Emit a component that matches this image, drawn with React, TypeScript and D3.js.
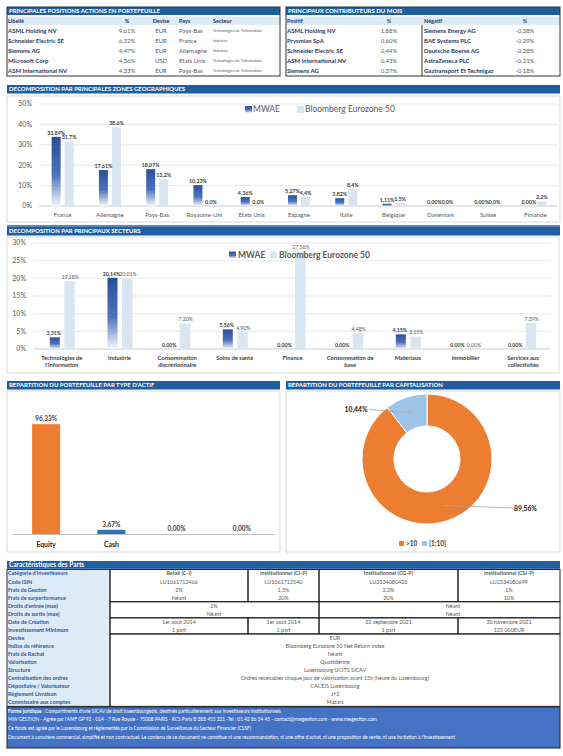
import React, { useEffect, useRef } from 'react';
import * as d3 from 'd3';

// Top positions table
const positionNames = ['ASML Holding NV', 'Schneider Electric SE', 'Siemens AG', 'Microsoft Corp', 'ASM International NV'];
const positionWeights = ['9,61%', '6,32%', '4,47%', '4,36%', '4,33%'];
const positionCurrencies = ['EUR', 'EUR', 'EUR', 'USD', 'EUR'];
const positionCountries = ['Pays-Bas', 'France', 'Allemagne', 'Etats Unis', 'Pays-Bas'];
const positionSectors = ["Technologies de l'information", 'Industrie', 'Industrie', "Technologies de l'information", "Technologies de l'information"];

// Contributors table
const positiveNames = ['ASML Holding NV', 'Prysmian SpA', 'Schneider Electric SE', 'ASM International NV', 'Siemens AG'];
const positiveValues = ['1,88%', '0,60%', '0,44%', '0,43%', '0,37%'];
const negativeNames = ['Siemens Energy AG', 'BAE Systems PLC', 'Deutsche Boerse AG', 'AstraZeneca PLC', 'Gaztransport Et Technigaz'];
const negativeValues = ['-0,38%', '-0,29%', '-0,28%', '-0,21%', '-0,18%'];

// Geographic breakdown
const zones = ['France', 'Allemagne', 'Pays-Bas', 'Royaume-Uni', 'Etats Unis', 'Espagne', 'Italie', 'Belgique', 'Danemark', 'Suisse', 'Finlande'];
const zoneFund = [33.89, 17.61, 18.07, 10.23, 4.36, 5.27, 3.82, 1.11, 0, 0, 0];
const zoneBench = [31.7, 38.6, 13.2, 0, 0, 4.4, 8.4, 1.5, 0, 0, 2.2];
const zoneTicks = [0, 10, 20, 30, 40, 50];

// Sector breakdown
const sectors = ["Technologies de\nl'information", 'Industrie', 'Consommation\ndiscrétionnaire', 'Soins de santé', 'Finance', 'Consommation de\nbase', 'Matériaux', 'Immobilier', 'Services aux\ncollectivités'];
const sectorFund = [3.31, 20.14, 0, 5.56, 0, 0, 4.15, 0, 0];
const sectorBench = [19.18, 20.01, 7.2, 4.9, 27.56, 4.48, 3.55, 0, 7.39];
const sectorTicks = [0, 5, 10, 15, 20, 25, 30];

// Asset types
const assetTypes = ['Equity', 'Cash', '', ''];
const assetValues = [96.33, 3.67, 0, 0];

// Capitalisation
const capBuckets = ['>10', '[1;10]'];
const capValues = [89.56, 10.44];

// Share class characteristics
const charLabels = [
  "Catégorie d'investisseurs", 'Code ISIN', 'Frais de Gestion', 'Frais de surperformance',
  "Droits d'entrée  (max)", 'Droits de sortie (max)', 'Date de Création', 'Investissement Minimum',
  'Devise', 'Indice de référence', 'Frais de Rachat', 'Valorisation', 'Structure',
  'Centralisation des ordres', 'Dépositaire / Valorisateur', 'Règlement Livraison', 'Commissaire aux comptes',
];
const shareClasses = ['Retail (C-I)', 'Institutionnel (CI-P)', 'Institutionnel (CG-P)', 'Institutionnel (CSI-P)'];
const isinCodes = ['LU1061712466', 'LU1061712540', 'LU2334080426', 'LU2334080699'];
const mgmtFees = ['2%', '1.5%', '2.2%', '1%'];
const perfFees = ['Néant', '20%', '20%', '10%'];
const entryFees = ['2%', 'Néant'];
const exitFees = ['Néant', 'Néant'];
const launchDates = ['1er août 2014', '1er août 2014', '22 septembre 2021', '30 novembre 2021'];
const minInvest = ['1 part', '1 part', '1 part', '125 000EUR'];
const commonValues = [
  'EUR', 'Bloomberg Eurozone 50 Net Return Index', 'Néant', 'Quotidienne', 'Luxembourg UCITS SICAV',
  'Ordres recevables chaque jour de valorisation avant 15h (heure du Luxembourg)', 'CACEIS Luxembourg', 'J+2', 'Mazars',
];

const footerLines = [
  " Compartiments d'une SICAV de droit luxembourgeois, destinés particulièrement aux investisseurs institutionnels",
  "MW GESTION - Agrée par l'AMF GP 92 - 014 - 7 Rue Royale - 75008 PARIS - RCS Paris B 388 455 321 -Tel : 01 42 86 54 45 - contact@mwgestion.com - www.mwgestion.com",
  'Ce fonds est agréé par le Luxembourg et réglementés par la Commission de Surveillance du Secteur Financier (CSSF)',
  "Document  à  caractère  commercial,  simplifié  et  non contractuel. Le contenu de ce document ne constitue ni une recommandation,  ni une offre d'achat, ni une proposition de vente, ni une incitation à l'investissement",
];

const FONT = 'Lato, "Liberation Sans", sans-serif';
const DARK_BLUE = '#1F5FA0';
const LIGHT_BLUE = '#DDEBF7';
const BENCH = '#DAE5F2';
const ORANGE = '#ED7D31';
const CASH_BLUE = '#2E75B6';
const CAP_BLUE = '#9DC3E6';
const GRAY = '#595959';
const LABEL = '#404040';
const NAVY = '#1F3864';
const FRAME = '#D9D9D9';

const fmt2 = (v: number) => v.toFixed(2).replace('.', ',') + '%';
const fmt1 = (v: number) => v.toFixed(1).replace('.', ',') + '%';

const App: React.FC = () => {
  const svgRef = useRef<SVGSVGElement>(null);

  useEffect(() => {
    const svg = d3.select(svgRef.current);
    svg.selectAll('*').remove();
    svg.attr('width', 563).attr('height', 756).style('font-family', FONT);

    // Gradient used by the fund bars
    const grad = svg.append('defs').append('linearGradient')
      .attr('id', 'fundGrad').attr('x1', 0).attr('y1', 0).attr('x2', 0).attr('y2', 1);
    grad.append('stop').attr('offset', '0%').attr('stop-color', '#2C4F9C');
    grad.append('stop').attr('offset', '55%').attr('stop-color', '#4D72B9');
    grad.append('stop').attr('offset', '100%').attr('stop-color', '#F4F7FB');

    const header = (x: number, y: number, w: number, h: number, label: string, size = 6) => {
      svg.append('rect').attr('x', x).attr('y', y).attr('width', w).attr('height', h).attr('fill', DARK_BLUE);
      svg.append('text').attr('x', x + 2).attr('y', y + h / 2).attr('dy', '0.35em')
        .attr('fill', 'white').style('font-size', `${size}px`).style('font-weight', 'bold').text(label);
    };

    const txt = (x: number, y: number, s: string, size: number, fill: string, anchor = 'start', bold = false) =>
      svg.append('text').attr('x', x).attr('y', y).attr('dy', '0.35em').attr('text-anchor', anchor)
        .attr('fill', fill).style('font-size', `${size}px`).style('font-weight', bold ? 'bold' : 'normal').text(s);

    const frame = (x: number, y: number, w: number, h: number, stroke = FRAME, sw = 1) =>
      svg.append('rect').attr('x', x).attr('y', y).attr('width', w).attr('height', h)
        .attr('fill', 'none').attr('stroke', stroke).attr('stroke-width', sw);

    // ---------- Top-left: main positions ----------
    header(7, 7, 273, 8, 'PRINCIPALES POSITIONS ACTIONS EN PORTEFEUILLE');
    svg.append('rect').attr('x', 7).attr('y', 16.5).attr('width', 273).attr('height', 8.5).attr('fill', LIGHT_BLUE);
    txt(8, 20.8, 'Libellé', 5.5, NAVY, 'start', true);
    txt(127, 20.8, '%', 5.5, NAVY, 'middle', true);
    txt(161, 20.8, 'Devise', 5.5, NAVY, 'middle', true);
    txt(179, 20.8, 'Pays', 5.5, NAVY, 'start', true);
    txt(213, 20.8, 'Secteur', 5.5, NAVY, 'start', true);
    positionNames.forEach((name, i) => {
      const y = 31 + i * 10;
      txt(8, y, name, 6, NAVY, 'start', true);
      txt(127, y, positionWeights[i], 6, GRAY, 'middle');
      txt(161, y, positionCurrencies[i], 6, GRAY, 'middle');
      txt(179, y, positionCountries[i], 6, GRAY, 'start');
      txt(213, y, positionSectors[i], 3.8, GRAY, 'start');
    });
    frame(7, 7, 273, 69, '#333', 1);

    // ---------- Top-right: contributors ----------
    header(286, 7, 274, 8, 'PRINCIPAUX CONTRIBUTEURS DU MOIS');
    svg.append('rect').attr('x', 286).attr('y', 16.5).attr('width', 274).attr('height', 8.5).attr('fill', LIGHT_BLUE);
    txt(287, 20.8, 'Positif', 5.5, NAVY, 'start', true);
    txt(389, 20.8, '%', 5.5, NAVY, 'middle', true);
    txt(424, 20.8, 'Négatif', 5.5, NAVY, 'start', true);
    txt(525, 20.8, '%', 5.5, NAVY, 'middle', true);
    positiveNames.forEach((name, i) => {
      const y = 31 + i * 10;
      txt(287, y, name, 6, NAVY, 'start', true);
      txt(389, y, positiveValues[i], 6, GRAY, 'middle');
      txt(424, y, negativeNames[i], 6, NAVY, 'start', true);
      txt(525, y, negativeValues[i], 6, GRAY, 'middle');
    });
    svg.append('line').attr('x1', 422).attr('x2', 422).attr('y1', 25).attr('y2', 76).attr('stroke', '#333');
    frame(286, 7, 274, 69, '#333', 1);

    // ---------- Geographic breakdown ----------
    header(7, 85, 553, 8.5, 'DECOMPOSITION PAR PRINCIPALES ZONES GEOGRAPHIQUES');
    frame(7, 96, 553, 126);
    const gx = d3.scaleBand<string>().domain(zones).range([39, 559]);
    const gy = d3.scaleLinear().domain([0, 50]).range([206, 104]);
    zoneTicks.forEach(t => {
      svg.append('line').attr('x1', 39).attr('x2', 558).attr('y1', gy(t)).attr('y2', gy(t))
        .attr('stroke', t === 0 ? '#BFBFBF' : '#E3E3E3').attr('stroke-width', 0.8);
      txt(32, gy(t), `${t}%`, 7, GRAY, 'end');
    });
    zones.forEach((z, i) => {
      const c = (gx(z) || 0) + gx.bandwidth() / 2;
      svg.append('rect').attr('x', c - 11).attr('y', gy(zoneFund[i])).attr('width', 9)
        .attr('height', gy(0) - gy(zoneFund[i])).attr('fill', 'url(#fundGrad)');
      svg.append('rect').attr('x', c + 2).attr('y', gy(zoneBench[i])).attr('width', 9)
        .attr('height', gy(0) - gy(zoneBench[i])).attr('fill', BENCH);
      txt(c - 6.5, gy(zoneFund[i]) - 4, fmt2(zoneFund[i]), 5.3, LABEL, 'middle', true);
      txt(c + 6.5, gy(zoneBench[i]) - 4, fmt1(zoneBench[i]), 5.3, LABEL, 'middle', true);
      txt(c, 215, z, 6, GRAY, 'middle');
    });
    svg.append('rect').attr('x', 245).attr('y', 106).attr('width', 7).attr('height', 7).attr('fill', 'url(#fundGrad)');
    txt(253, 109.5, 'MWAE', 8.5, GRAY);
    svg.append('rect').attr('x', 297).attr('y', 106).attr('width', 7).attr('height', 7).attr('fill', BENCH);
    txt(305, 109.5, 'Bloomberg Eurozone 50', 8.5, GRAY);
    svg.append('line').attr('x1', 7).attr('x2', 560).attr('y1', 226).attr('y2', 226).attr('stroke', DARK_BLUE).attr('stroke-width', 1.5);

    // ---------- Sector breakdown ----------
    header(7, 227, 553, 8.5, 'DECOMPOSITION PAR PRINCIPAUX SECTEURS');
    frame(7, 237, 552, 136);
    const sx = d3.scaleBand<string>().domain(sectors).range([33, 552]);
    const sy = d3.scaleLinear().domain([0, 30]).range([349, 243]);
    sectorTicks.forEach(t => {
      svg.append('line').attr('x1', 33).attr('x2', 551).attr('y1', sy(t)).attr('y2', sy(t))
        .attr('stroke', t === 0 ? '#BFBFBF' : '#E3E3E3').attr('stroke-width', 0.8);
      txt(26, sy(t), `${t}%`, 7, GRAY, 'end');
    });
    sectors.forEach((s, i) => {
      const c = (sx(s) || 0) + sx.bandwidth() / 2;
      svg.append('rect').attr('x', c - 12).attr('y', sy(sectorFund[i])).attr('width', 10)
        .attr('height', sy(0) - sy(sectorFund[i])).attr('fill', 'url(#fundGrad)');
      svg.append('rect').attr('x', c + 2.5).attr('y', sy(sectorBench[i])).attr('width', 10.5)
        .attr('height', sy(0) - sy(sectorBench[i])).attr('fill', BENCH);
      txt(c - 8, sy(sectorFund[i]) - 4, fmt2(sectorFund[i]), 5.2, LABEL, 'middle', true);
      txt(c + 8.5, sy(sectorBench[i]) - 4, fmt2(sectorBench[i]), 5.2, GRAY, 'middle');
      s.split('\n').forEach((line, k) => txt(c, 357.5 + k * 7.5, line, 5.8, LABEL, 'middle', true));
    });
    svg.append('rect').attr('x', 229).attr('y', 251.5).attr('width', 7).attr('height', 7).attr('fill', 'url(#fundGrad)');
    txt(238, 255, 'MWAE', 8.5, GRAY, 'start', true);
    svg.append('rect').attr('x', 270).attr('y', 251.5).attr('width', 7).attr('height', 7).attr('fill', BENCH);
    txt(279, 255, 'Bloomberg Eurozone 50', 8.5, GRAY, 'start', true);

    // ---------- Asset types ----------
    header(7, 381, 273, 8.5, "REPARTITION DU PORTEFEUILLE PAR TYPE D'ACTIF");
    frame(7, 391, 273, 161);
    const ax = d3.scaleBand<number>().domain(assetValues.map((_, i) => i)).range([13.5, 274.5]);
    const ay = d3.scaleLinear().domain([0, 100]).range([534, 420]);
    assetValues.forEach((v, i) => {
      const c = (ax(i) || 0) + ax.bandwidth() / 2;
      svg.append('rect').attr('x', c - 14).attr('y', ay(v)).attr('width', 28).attr('height', ay(0) - ay(v))
        .attr('fill', i === 0 ? ORANGE : CASH_BLUE);
      txt(c, ay(v) - 5.5, fmt2(v), 6.5, LABEL, 'middle', true);
      if (assetTypes[i]) txt(c, 545, assetTypes[i], 6.8, '#222', 'middle', true);
    });
    svg.append('line').attr('x1', 13).attr('x2', 274).attr('y1', 534.5).attr('y2', 534.5).attr('stroke', '#BFBFBF');

    // ---------- Capitalisation donut ----------
    header(286, 381, 274, 8.5, 'REPARTITION DU PORTEFEUILLE PAR CAPITALISATION');
    frame(286, 391, 274, 161);
    const cx = 427, cy = 459;
    const pie = d3.pie<number>().sort(null)(capValues);
    const arc = d3.arc<d3.PieArcDatum<number>>().innerRadius(33).outerRadius(65);
    const labelArc = d3.arc<d3.PieArcDatum<number>>().innerRadius(49).outerRadius(49);
    const donut = svg.append('g').attr('transform', `translate(${cx},${cy})`);
    donut.selectAll('path').data(pie).enter().append('path')
      .attr('d', arc).attr('fill', (_, i) => (i === 0 ? ORANGE : CAP_BLUE))
      .attr('stroke', 'white').attr('stroke-width', 1);
    const labelEnds: [number, number][] = [[513, 508], [369, 409.5]];
    const labelPos: [number, number, string][] = [[514, 509, 'start'], [356, 409.5, 'middle']];
    pie.forEach((p, i) => {
      const [px, py] = labelArc.centroid(p);
      svg.append('line').attr('x1', cx + px).attr('y1', cy + py).attr('x2', labelEnds[i][0]).attr('y2', labelEnds[i][1])
        .attr('stroke', '#A6A6A6').attr('stroke-width', 0.8);
      txt(labelPos[i][0], labelPos[i][1], fmt2(capValues[i]), 6.8, '#222', labelPos[i][2], true);
    });
    capBuckets.forEach((b, i) => {
      const x = i === 0 ? 399 : 422;
      svg.append('rect').attr('x', x).attr('y', 541).attr('width', 5).attr('height', 5).attr('fill', i === 0 ? ORANGE : CAP_BLUE);
      txt(x + 7, 544, b, 6.5, LABEL, 'start', true);
    });

    // ---------- Share class characteristics ----------
    header(7, 561, 553, 7.8, 'Caractéristiques des Parts', 6.5);
    const rowTop = (i: number) => 569.5 + i * 8.05;
    const rowMid = (i: number) => rowTop(i) + 4.1;
    const cols = [110, 248, 319, 458, 560];
    svg.append('rect').attr('x', 7).attr('y', 569.5).attr('width', 103).attr('height', rowTop(17) - 569.5)
      .attr('fill', LIGHT_BLUE).attr('stroke', '#333');
    charLabels.forEach((l, i) => txt(8, rowMid(i), l, 5.4, '#2F5597', 'start', true));

    const fourCols = (rows: string[][], start: number, boldFirst = false) => {
      rows.forEach((vals, r) => vals.forEach((v, c) =>
        txt((cols[c] + cols[c + 1]) / 2, rowMid(start + r), v, 5.4, GRAY, 'middle', boldFirst && r === 0)));
      for (let c = 0; c < 4; c++) {
        frame(cols[c], rowTop(start), cols[c + 1] - cols[c], rowTop(start + rows.length) - rowTop(start), '#222', 1);
      }
    };
    fourCols([shareClasses, isinCodes, mgmtFees, perfFees], 0, true);
    [entryFees, exitFees].forEach((vals, r) => {
      txt(214, rowMid(4 + r), vals[0], 5.4, GRAY, 'middle');
      txt(453, rowMid(4 + r), vals[1], 5.4, GRAY, 'middle');
    });
    frame(110, rowTop(4), 209, rowTop(6) - rowTop(4), '#222', 1);
    frame(319, rowTop(4), 241, rowTop(6) - rowTop(4), '#222', 1);
    fourCols([launchDates, minInvest], 6);
    commonValues.forEach((v, r) => txt(335, rowMid(8 + r), v, 5.4, GRAY, 'middle'));
    frame(110, rowTop(8), 450, rowTop(17) - rowTop(8), '#222', 1);

    // ---------- Footer ----------
    svg.append('rect').attr('x', 7).attr('y', 707).attr('width', 553).attr('height', 41)
      .attr('fill', '#4472C4').attr('stroke', '#222').attr('stroke-width', 1);
    const first = svg.append('text').attr('x', 8).attr('y', 711).attr('dy', '0.35em')
      .attr('fill', 'white').style('font-size', '4.8px');
    first.append('tspan').style('font-weight', 'bold').text('Forme juridique');
    first.append('tspan').text(' :' + footerLines[0]);
    footerLines.slice(1).forEach((l, i) => txt(8, 719.5 + i * 8.7, l, 4.8, 'white'));
  }, []);

  return <svg ref={svgRef} style={{ position: 'absolute', left: 0, top: 0 }} />;
};

export default App;
